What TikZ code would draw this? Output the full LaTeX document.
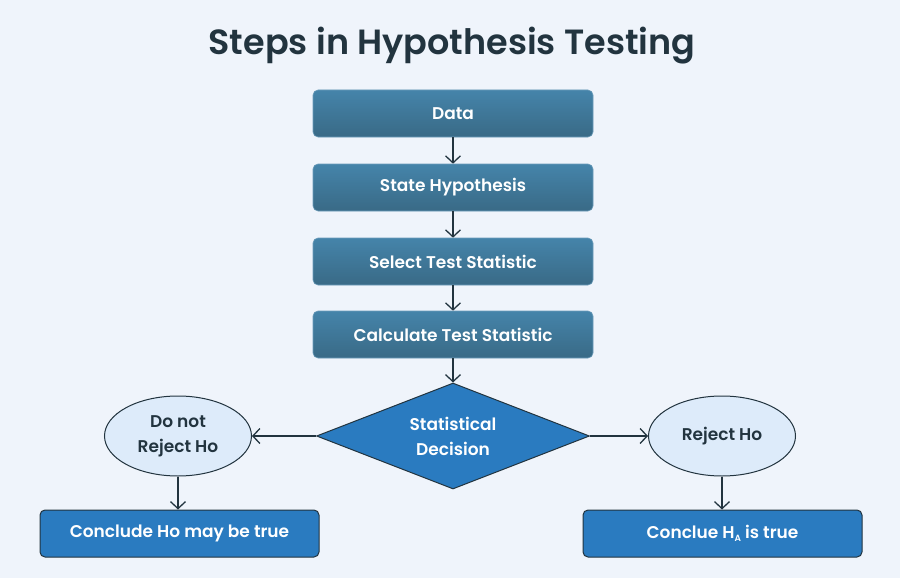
\documentclass[tikz,border=0pt]{standalone}
\usepackage{fontspec}
\setmainfont{Poppins}[BoldFont={* SemiBold}]
\usetikzlibrary{shapes.geometric,arrows.meta,positioning}

\begin{document}
\begin{tikzpicture}[x=1pt, y=-1pt, every node/.style={font=\fontsize{17}{25}\selectfont\bfseries}]
        \definecolor{bgblue}{HTML}{EFF4FB}
        \definecolor{darkslate}{HTML}{22343F}
        \definecolor{steptop}{HTML}{4584AA}
        \definecolor{stepbot}{HTML}{396A86}
        \definecolor{stepedge}{HTML}{6C9CBA}
        \definecolor{decblue}{HTML}{2A7BC0}
        \definecolor{ovalfill}{HTML}{DDEBFA}

        \tikzset{
            stepbox/.style={rectangle, rounded corners=5pt, minimum width=280pt, minimum height=47pt, top color=steptop, bottom color=stepbot, draw=stepedge, line width=0.6pt, text=white},
            endbox/.style={rectangle, rounded corners=5pt, minimum width=279pt, minimum height=47pt, fill=decblue, draw=darkslate, line width=1pt, text=white},
            oval/.style={ellipse, minimum width=147pt, minimum height=80pt, inner sep=0pt, fill=ovalfill, draw=darkslate, line width=1pt, text=darkslate, align=center},
            link/.style={-{Straight Barb[length=7pt, width=15pt]}, draw=darkslate, line width=1.3pt}
        }

        % Background and title
        \fill[bgblue] (0,0) rectangle (900,578);
        \node[font=\fontsize{35}{40}\selectfont\bfseries, text=darkslate] (title) at (452,46) {Steps in Hypothesis Testing};

        % Steps
        \node[stepbox] (data) at (453,113.5) {Data};
        \node[stepbox] (state) at (453,187.5) {State Hypothesis};
        \node[stepbox] (select) at (453,261.5) {Select Test Statistic};
        \node[stepbox] (calc) at (453,334.5) {Calculate Test Statistic};

        % Decision
        \node[diamond, aspect=2.6, minimum width=273pt, minimum height=106pt, inner sep=0pt, fill=decblue, draw=darkslate, line width=1pt, text=white, align=center] (dec) at (453,436) {Statistical\\Decision};

        % Outcomes
        \node[oval] (keep) at (178,436) {Do not\\Reject Ho};
        \node[oval] (reject) at (722,436) {Reject Ho};

        % Conclusions
        \node[endbox] (concl) at (179.5,533.5) {Conclude Ho may be true};
        \node[endbox] (concr) at (722.5,533.5) {Conclue H\raisebox{-0.35ex}{\fontsize{9}{9}\selectfont A} is true};

        % Arrows
        \draw[link] (data) -- (state);
        \draw[link] (state) -- (select);
        \draw[link] (select) -- (calc);
        \draw[link] (calc) -- (dec);
        \draw[link] (dec.west) -- (keep.east);
        \draw[link] (dec.east) -- (reject.west);
        \draw[link] (keep) -- (keep |- concl.north);
        \draw[link] (reject) -- (reject |- concr.north);
    \end{tikzpicture}
\end{document}
